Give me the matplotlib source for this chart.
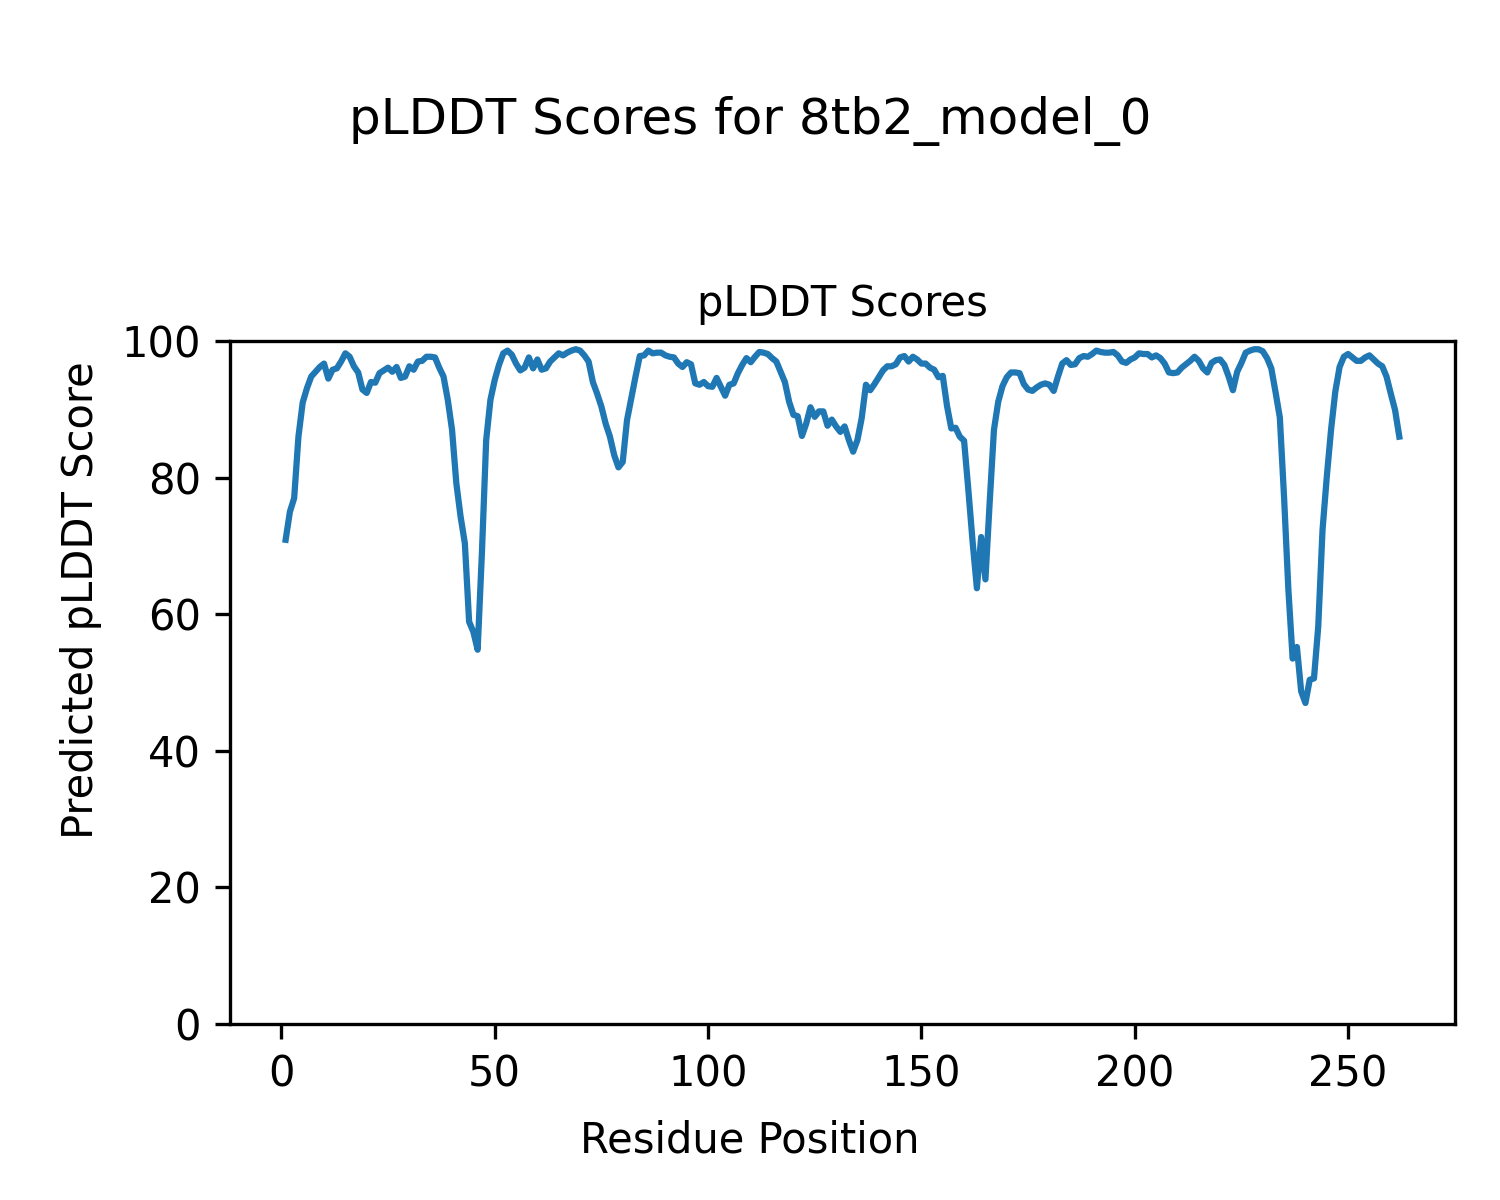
import matplotlib
matplotlib.use("Agg")
import matplotlib.pyplot as plt
import numpy as np

title_text = "pLDDT Scores for 8tb2_model_0"
axes_title = "pLDDT Scores"
xlabel = "Residue Position"
ylabel = "Predicted pLDDT Score"

plddt = [
    70.9, 75.0, 77.0, 86.0, 91.0, 93.1, 94.8, 95.5, 96.2, 96.7,   # 1-10
    94.5, 95.8, 96.0, 97.0, 98.2, 97.7, 96.3, 95.4, 92.9, 92.4,   # 11-20
    94.0, 93.9, 95.3, 95.7, 96.1, 95.5, 96.2, 94.6, 94.8, 96.3,   # 21-30
    95.8, 97.0, 97.1, 97.7, 97.7, 97.6, 96.1, 94.8, 91.4, 87.0,   # 31-40
    79.2, 74.3, 70.4, 58.9, 57.4, 54.8, 69.0, 85.5, 91.4, 94.3,   # 41-50
    96.5, 98.2, 98.6, 98.0, 96.7, 95.7, 96.1, 97.6, 96.0, 97.3,   # 51-60
    95.8, 96.0, 97.0, 97.6, 98.2, 97.9, 98.3, 98.6, 98.8, 98.6,   # 61-70
    97.9, 97.0, 94.0, 92.3, 90.4, 87.9, 86.0, 83.3, 81.5, 82.3,   # 71-80
    88.4, 91.6, 94.8, 97.8, 97.9, 98.6, 98.2, 98.3, 98.3, 97.9,   # 81-90
    97.7, 97.6, 96.7, 96.2, 96.9, 96.6, 93.8, 93.6, 94.0, 93.4,   # 91-100
    93.3, 94.6, 93.3, 92.0, 93.6, 93.8, 95.3, 96.5, 97.5, 96.9,   # 101-110
    97.7, 98.4, 98.3, 98.1, 97.5, 97.0, 95.5, 94.0, 91.1, 89.2,   # 111-120
    89.0, 86.1, 87.9, 90.3, 88.9, 89.7, 89.7, 87.6, 88.5, 87.5,   # 121-130
    86.7, 87.5, 85.5, 83.8, 85.5, 88.7, 93.6, 92.8, 93.7, 94.7,   # 131-140
    95.7, 96.3, 96.3, 96.6, 97.6, 97.8, 97.0, 97.7, 97.3, 96.7,   # 141-150
    96.7, 96.1, 95.8, 94.7, 94.9, 90.5, 87.2, 87.3, 86.0, 85.4,   # 151-160
    78.2, 70.6, 63.8, 71.3, 65.1, 76.4, 87.0, 91.1, 93.4, 94.7,   # 161-170
    95.4, 95.4, 95.3, 93.7, 92.9, 92.7, 93.2, 93.6, 93.8, 93.6,   # 171-180
    92.7, 94.8, 96.7, 97.2, 96.5, 96.6, 97.5, 97.8, 97.7, 98.1,   # 181-190
    98.6, 98.4, 98.3, 98.3, 98.4, 97.9, 97.0, 96.8, 97.3, 97.6,   # 191-200
    98.2, 98.1, 98.1, 97.6, 97.9, 97.5, 96.7, 95.4, 95.3, 95.4,   # 201-210
    96.1, 96.6, 97.1, 97.7, 97.1, 96.0, 95.4, 96.8, 97.2, 97.3,   # 211-220
    96.5, 94.8, 92.8, 95.5, 96.8, 98.3, 98.6, 98.8, 98.8, 98.5,   # 221-230
    97.5, 96.0, 92.5, 88.8, 77.0, 63.6, 53.5, 55.2, 48.7, 47.0,   # 231-240
    50.4, 50.6, 58.2, 72.3, 80.1, 87.0, 92.6, 96.2, 97.7, 98.1,   # 241-250
    97.6, 97.1, 97.1, 97.6, 97.9, 97.3, 96.7, 96.3, 94.8, 92.3,   # 251-260
    89.9, 86.0,                                                   # 261-262
]
residues = np.arange(1, len(plddt) + 1)

fig = plt.figure(figsize=(5, 4), dpi=300)
ax = fig.add_axes([0.1533, 0.1467, 0.97 - 0.1533, 0.7158 - 0.1467])
ax.plot(residues, plddt, color="#1f77b4", linewidth=1.5)
ax.set_ylim(0, 100)
ax.set_title(axes_title, fontsize=10)
fig.suptitle(title_text, fontsize=12, y=0.92)
fig.text(0.5, (1200 - 1152.7) / 1200, xlabel, fontsize=10,
         ha="center", va="baseline")
fig.text(93 / 1500, 0.5, ylabel, fontsize=10, rotation=90,
         rotation_mode="anchor", ha="center", va="baseline")
fig.savefig("out.png", dpi=300)
